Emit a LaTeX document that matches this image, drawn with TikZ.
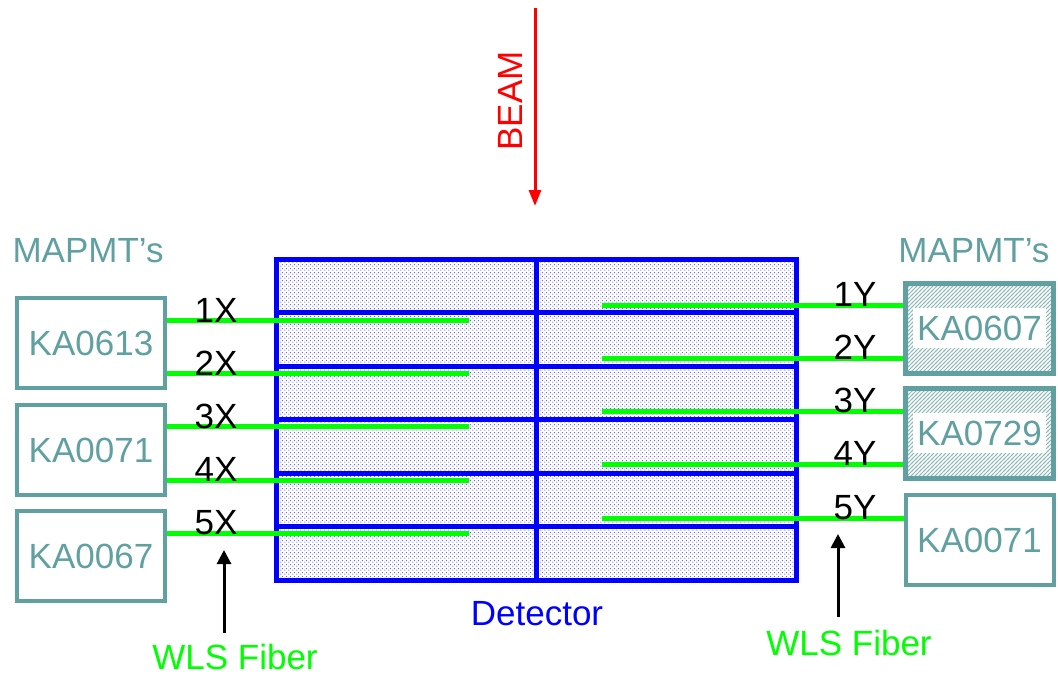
\documentclass[tikz,border=0pt]{standalone}
\usepackage{fontspec}
\setmainfont{Liberation Sans}
\usetikzlibrary{patterns,patterns.meta,arrows.meta}
\definecolor{mteal}{RGB}{96,160,160}
\definecolor{fgreen}{RGB}{0,255,0}
\definecolor{dblue}{RGB}{0,0,255}
\definecolor{bred}{RGB}{255,0,0}
\pgfdeclarepattern{
  name=detdots, type=uncolored,
  bottom left={\pgfpoint{0pt}{0pt}}, top right={\pgfpoint{4pt}{4pt}},
  tile size={\pgfpoint{4pt}{4pt}},
  code={\pgfpathcircle{\pgfpoint{1pt}{1pt}}{0.65pt}
        \pgfpathcircle{\pgfpoint{3pt}{3pt}}{0.65pt}\pgfusepath{fill}}}
\pgfdeclarepattern{
  name=pmthatch, type=uncolored,
  bottom left={\pgfpoint{-1pt}{-1pt}}, top right={\pgfpoint{5pt}{5pt}},
  tile size={\pgfpoint{4pt}{4pt}},
  code={\pgfsetlinewidth{0.9pt}\pgfpathmoveto{\pgfpoint{-1pt}{-1pt}}
        \pgfpathlineto{\pgfpoint{5pt}{5pt}}\pgfusepath{stroke}}}
\begin{document}
\begin{tikzpicture}[x=1pt,y=-1pt,
  big/.style={font=\fontsize{35}{40}\selectfont},
  pmt/.style={draw=mteal,line width=4pt,minimum width=148pt,minimum height=90pt,inner sep=0pt,text=mteal,big},
  hatched/.style={pmt,line width=5pt,pattern=pmthatch,pattern color=mteal!75},
  pmtlabel/.style={fill=white,text=mteal,big,inner xsep=4pt,inner ysep=8pt},
  fiber/.style={draw=fgreen,line width=5pt},
  detline/.style={draw=dblue,line width=5pt},
  lab/.style={big,text=black,anchor=base},
  ptr/.style={draw=black,line width=3pt,-{Triangle[length=14pt,width=14pt]}}
]
\useasboundingbox (0,0) rectangle (1058,675);
% detector
\node[draw=dblue,line width=5pt,pattern=detdots,pattern color=dblue!70,
  minimum width=520pt,minimum height=321pt,inner sep=0pt] (det) at (536,419.5) {};
\coordinate (vtop) at (536,259);
\coordinate (vbot) at (536,580);
\draw[detline] (vtop) -- (vbot);
\foreach \yy in {312.5,366,419.5,473,526.5}{
  \draw[detline] (det.west |- 0,\yy) -- (det.east |- 0,\yy);
}
\node[big,text=dblue,anchor=base] (dettext) at (537,625) {Detector};
% beam
\coordinate (bs) at (535,8);
\coordinate (be) at (535,206);
\draw[draw=bred,line width=3pt,-{Triangle[length=16pt,width=12pt]}] (bs) -- (be);
\node[big,text=bred,rotate=90] (beam) at (510,101) {BEAM};
% left PMTs
\node[big,text=mteal,anchor=base west] (mapl) at (9,262) {MAPMT’s};
\node[pmt] (L1) at (91,343) {KA0613};
\node[pmt] (L2) at (91,450) {KA0071};
\node[pmt] (L3) at (91,556) {KA0067};
% right PMTs
\node[big,text=mteal,anchor=base east] (mapr) at (1053,262) {MAPMT’s};
\node[hatched] (R1) at (979.5,328) {};
\node[pmtlabel] (R1t) at (R1) {KA0607};
\node[hatched] (R2) at (979.5,433) {};
\node[pmtlabel] (R2t) at (R2) {KA0729};
\node[pmt] (R3) at (979.5,540) {KA0071};
% left fibers
\coordinate (lf1) at (469,320);
\coordinate (lf2) at (469,373.5);
\coordinate (lf3) at (469,426.5);
\coordinate (lf4) at (469,480);
\coordinate (lf5) at (469,533);
\draw[fiber] (lf1 -| L1.east) -- (lf1);
\draw[fiber] (lf2 -| L1.east) -- (lf2);
\draw[fiber] (lf3 -| L2.east) -- (lf3);
\draw[fiber] (lf4 -| L2.east) -- (lf4);
\draw[fiber] (lf5 -| L3.east) -- (lf5);
% right fibers
\coordinate (rf1) at (602,305);
\coordinate (rf2) at (602,358);
\coordinate (rf3) at (602,411);
\coordinate (rf4) at (602,464.5);
\coordinate (rf5) at (602,518);
\draw[fiber] (rf1) -- (rf1 -| R1.west);
\draw[fiber] (rf2) -- (rf2 -| R1.west);
\draw[fiber] (rf3) -- (rf3 -| R2.west);
\draw[fiber] (rf4) -- (rf4 -| R2.west);
\draw[fiber] (rf5) -- (rf5 -| R3.west);
% labels
\node[lab] (x1) at (216,322) {1X};
\node[lab] (x2) at (216,375) {2X};
\node[lab] (x3) at (216,428) {3X};
\node[lab] (x4) at (216,481) {4X};
\node[lab] (x5) at (216,534) {5X};
\node[lab] (y1) at (855,306) {1Y};
\node[lab] (y2) at (855,359) {2Y};
\node[lab] (y3) at (855,412) {3Y};
\node[lab] (y4) at (855,465) {4Y};
\node[lab] (y5) at (855,519) {5Y};
% WLS fiber
\node[big,text=fgreen,anchor=base] (wlsl) at (235,669) {WLS Fiber};
\node[big,text=fgreen,anchor=base] (wlsr) at (849,655) {WLS Fiber};
\coordinate (al1) at (224,633);
\coordinate (al2) at (224,550);
\coordinate (ar1) at (838,617);
\coordinate (ar2) at (838,534);
\draw[ptr] (al1) -- (al2);
\draw[ptr] (ar1) -- (ar2);
\end{tikzpicture}
\end{document}
